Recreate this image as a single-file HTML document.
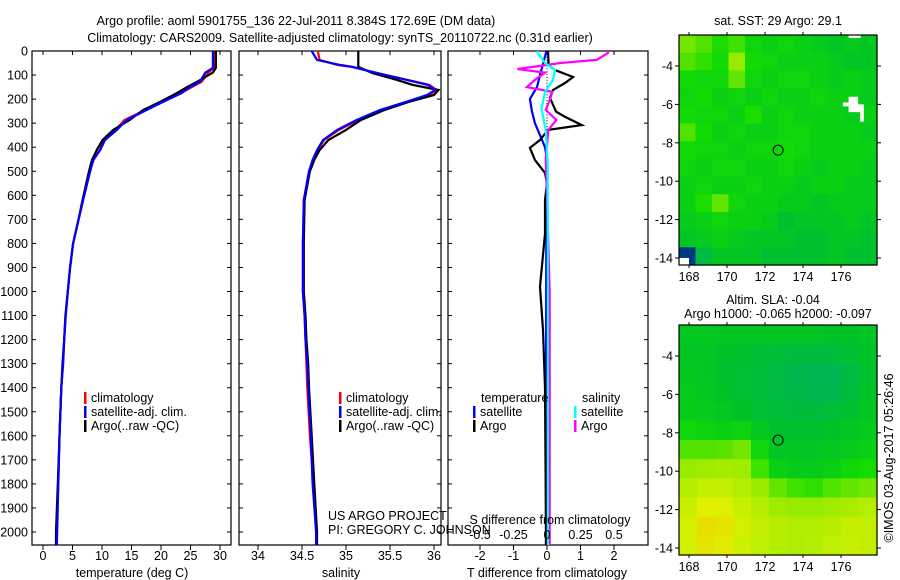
<!DOCTYPE html>
<html><head><meta charset="utf-8"><style>
html,body{margin:0;padding:0;background:#fff;}
svg{display:block;font-family:"Liberation Sans",sans-serif;}
text{font-size:12.5px;fill:#000;}
</style></head><body>
<svg id="chart" width="900" height="580" viewBox="0 0 900 580" xmlns="http://www.w3.org/2000/svg">
<text x="296" y="25" text-anchor="middle">Argo profile: aoml 5901755_136 22-Jul-2011 8.384S 172.69E (DM data)</text>
<text x="340" y="42" text-anchor="middle">Climatology: CARS2009. Satellite-adjusted climatology: synTS_20110722.nc (0.31d earlier)</text>
<g id="p1"></g>
<g id="p2"></g>
<g id="p3"></g>
<g id="m1"></g>
<g id="m2"></g>
<text x="328" y="520">US ARGO PROJECT</text>
<text x="328" y="534">PI: GREGORY C. JOHNSON</text>
<text x="778" y="25" text-anchor="middle">sat. SST: 29 Argo: 29.1</text>
<text x="773" y="304" text-anchor="middle">Altim. SLA: -0.04</text>
<text x="778" y="318" text-anchor="middle">Argo h1000: -0.065 h2000: -0.097</text>
<text transform="translate(893,458) rotate(-90)" text-anchor="middle">©IMOS 03-Aug-2017 05:26:46</text>
</svg>
<script>
// ---- data ----
const depthTicks=[0,100,200,300,400,500,600,700,800,900,1000,1100,1200,1300,1400,1500,1600,1700,1800,1900,2000];
const tempTicks=[0,5,10,15,20,25,30];
const salTicks=[34,34.5,35,35.5,36];
const salTickLabels=["34","34.5","35","35.5","36"];
const tdiffTicks=[-2,-1,0,1,2];
const sdiffTicks=[-0.5,-0.25,0,0.25,0.5];
const sdiffLabels=["-0.5","-0.25","0","0.25","0.5"];

const tDepth=[0,70,90,128,150,175,212,245,287,328,370,412,453,500,620,703,800,900,1000,1100,1200,1300,1400,1600,1800,2000,2054];
const tempSat=[28.8,28.8,27.5,26.6,24.9,23.5,20.3,17.6,14.2,12.5,10.5,9.7,8.5,8.0,6.8,6.0,5.1,4.6,4.2,3.85,3.6,3.4,3.1,2.8,2.6,2.4,2.35];
const tempClim=[29.0,29.0,28.0,26.9,25.2,23.3,20.0,17.4,13.8,12.3,10.4,9.6,8.6,7.9,6.8,6.0,5.1,4.6,4.2,3.85,3.6,3.4,3.1,2.8,2.6,2.3,2.3];
const tempArgo=[29.3,29.3,28.8,26.1,24.4,22.7,19.8,17.0,14.7,11.9,10.1,9.1,8.3,7.8,6.7,6.0,5.1,4.6,4.2,3.8,3.6,3.3,3.1,2.8,2.5,2.2,2.2];

const sDepth=[0,37,58,66,92,120,141,162,183,211,245,287,328,370,412,453,500,620,800,1000,1100,1200,1300,1400,1600,1800,2000,2054];
const salSat=[34.61,34.67,34.93,35.08,35.35,35.69,35.93,36.01,35.92,35.69,35.39,35.12,34.9,34.74,34.67,34.62,34.58,34.52,34.51,34.51,34.53,34.54,34.56,34.57,34.60,34.62,34.66,34.66];
const salClim=[34.68,34.70,34.90,35.06,35.36,35.70,35.95,36.03,35.95,35.71,35.41,35.14,34.92,34.75,34.68,34.63,34.58,34.52,34.51,34.51,34.53,34.54,34.55,34.56,34.59,34.63,34.66,34.66];
const salArgo=[35.14,35.14,35.14,35.14,35.3,35.58,35.76,36.05,36.0,35.72,35.44,35.17,35.0,34.8,34.7,34.64,34.59,34.53,34.52,34.52,34.54,34.55,34.57,34.58,34.61,34.64,34.67,34.67];

const dtSatDepth=[0,8,100,150,200,250,300,350,400,450,800,1400,2054];
const dtSat=[-0.03,-0.03,-0.21,-0.3,-0.51,-0.45,-0.36,-0.21,-0.06,0,-0.02,-0.03,-0.03];
const dtArgoDepth=[0,60,79,108,133,162,195,252,274,308,328,370,403,453,507,550,620,760,980,1160,1400,2000,2054];
const dtArgo=[0.03,0.05,0.24,0.78,0.54,0.18,0.09,0.27,0.54,1.04,0.03,-0.21,-0.51,-0.36,-0.06,0,-0.06,-0.06,-0.21,-0.12,-0.06,-0.03,-0.03];
const dsArgoDepth=[0,8,37,50,75,90,120,150,170,204,245,287,328,453,600,1000,2000,2054];
const dsArgo=[0.455,0.455,0.37,0.1,-0.22,-0.015,-0.09,-0.15,0.04,0.02,-0.01,0.07,0.01,-0.01,0,0.02,0.02,0.02];
const dsSatDepth=[0,8,50,79,120,170,240,328,470,1000,2054];
const dsSat=[-0.07,-0.07,-0.015,0.06,0.045,-0.015,-0.04,-0.01,0.005,0.007,0.007];

const lonTicks=[168,170,172,174,176];
const latTicks=[-4,-6,-8,-10,-12,-14];
const argoLon=172.69, argoLat=-8.384;
// gridded field values (0..1 colour index), rows north→south, cols west→east
const sstGrid=[
[0.66,0.62,0.56,0.6,0.52,0.5,0.52,0.5,0.48,0.46,0.48,0.46],
[0.62,0.58,0.54,0.7,0.54,0.52,0.5,0.5,0.5,0.48,0.46,0.46],
[0.54,0.52,0.52,0.64,0.52,0.5,0.52,0.52,0.5,0.48,0.5,0.48],
[0.52,0.54,0.5,0.52,0.5,0.52,0.5,0.5,0.52,0.5,0.5,0.48],
[0.54,0.52,0.52,0.5,0.56,0.5,0.52,0.5,0.5,0.5,0.48,0.5],
[0.62,0.54,0.5,0.52,0.5,0.5,0.52,0.52,0.5,0.5,0.5,0.48],
[0.54,0.52,0.52,0.5,0.52,0.52,0.54,0.52,0.5,0.5,0.5,0.5],
[0.52,0.5,0.52,0.52,0.5,0.5,0.52,0.5,0.48,0.5,0.5,0.48],
[0.5,0.52,0.5,0.5,0.52,0.5,0.5,0.48,0.5,0.5,0.48,0.48],
[0.5,0.56,0.64,0.52,0.5,0.5,0.48,0.48,0.46,0.48,0.48,0.48],
[0.48,0.5,0.52,0.5,0.5,0.48,0.44,0.46,0.46,0.46,0.48,0.46],
[0.46,0.48,0.5,0.48,0.46,0.46,0.46,0.44,0.44,0.46,0.46,0.44],
[0.1,0.4,0.46,0.46,0.46,0.44,0.44,0.44,0.44,0.46,0.44,0.44]];
const slaGrid=[
[0.47,0.47,0.46,0.46,0.46,0.46,0.46,0.46,0.45,0.45,0.46],
[0.46,0.46,0.45,0.44,0.43,0.42,0.41,0.41,0.41,0.43,0.45],
[0.47,0.46,0.44,0.43,0.42,0.40,0.38,0.37,0.37,0.40,0.44],
[0.48,0.47,0.45,0.43,0.42,0.40,0.39,0.38,0.38,0.41,0.45],
[0.49,0.48,0.47,0.45,0.43,0.42,0.41,0.41,0.42,0.44,0.46],
[0.52,0.51,0.50,0.51,0.47,0.44,0.44,0.44,0.45,0.46,0.48],
[0.62,0.62,0.63,0.66,0.52,0.46,0.46,0.46,0.47,0.48,0.50],
[0.70,0.72,0.73,0.72,0.60,0.50,0.48,0.48,0.50,0.53,0.55],
[0.76,0.79,0.79,0.76,0.71,0.64,0.60,0.58,0.62,0.64,0.66],
[0.80,0.85,0.84,0.80,0.76,0.72,0.70,0.70,0.72,0.74,0.76],
[0.82,0.90,0.88,0.82,0.79,0.77,0.75,0.75,0.77,0.79,0.79],
[0.82,0.88,0.86,0.81,0.78,0.76,0.75,0.76,0.78,0.80,0.79]];

// ---- helpers ----
const NS="http://www.w3.org/2000/svg";
function mk(parent,tag,attrs){const e=document.createElementNS(NS,tag);for(const k in attrs)e.setAttribute(k,attrs[k]);parent.appendChild(e);return e;}
const Y0=51, YS=0.2405;
const yD=d=>Y0+d*YS;
const xT=t=>43+t*5.9;
const xS=s=>258+(s-34)*88;
const xDT=v=>547+v*33.5;
const xDS=v=>547+v*134;

function frame(g,x0,x1){
  const r=mk(g,'rect',{x:x0,y:Y0,width:x1-x0,height:545-Y0,fill:'none',stroke:'#000','stroke-width':1.2});
  
  
  depthTicks.forEach(d=>{
    mk(g,'line',{x1:x0,x2:x0+4,y1:yD(d),y2:yD(d),stroke:'#000'});
    mk(g,'line',{x1:x1-4,x2:x1,y1:yD(d),y2:yD(d),stroke:'#000'});
  });
}
function xticks(g,vals,fx,labels,ly){
  vals.forEach((v,i)=>{
    const x=fx(v);
    mk(g,'line',{x1:x,x2:x,y1:Y0,y2:Y0+4,stroke:'#000'});
    mk(g,'line',{x1:x,x2:x,y1:545,y2:550,stroke:'#000'});
    const t=mk(g,'text',{x:x,y:ly,'text-anchor':'middle'});
    
    
    t.textContent=labels?labels[i]:String(v);
  });
}
function line(g,ds,vs,fx,color,w,name){
  const pts=ds.map((d,i)=>fx(vs[i]).toFixed(1)+','+yD(Math.min(d,2054)).toFixed(1)).join(' ');
  const p=mk(g,'polyline',{points:pts,fill:'none',stroke:color,'stroke-width':w,'stroke-linejoin':'miter'});
  
  
}
function legend(g,x,y,color,label){
  mk(g,'rect',{x:x,y:y-10,width:2.5,height:12,fill:color});
  const t=mk(g,'text',{x:x+7,y:y});
  
  
  t.textContent=label;
}
function txt(g,x,y,s,anchor,name){
  const t=mk(g,'text',{x:x,y:y,'text-anchor':anchor||'start'});
  
  
  t.textContent=s;
}

// ---- panel 1 ----
const p1=document.getElementById('p1');
frame(p1,32,231);
depthTicks.forEach(d=>txt(p1,28,yD(d)+4.5,String(d),'end','depth-tick-label'));
xticks(p1,tempTicks,xT,null,560);
line(p1,tDepth,tempClim,xT,'#f00',2.2,'temp-climatology-line');
line(p1,tDepth,tempArgo,xT,'#000',2.2,'temp-argo-line');
line(p1,tDepth,tempSat,xT,'#0000ff',2.2,'temp-satellite-line');
txt(p1,132,577,'temperature (deg C)','middle','x-axis-title');
legend(p1,84,402,'#f00','climatology');
legend(p1,84,416,'#0000ff','satellite-adj. clim.');
legend(p1,84,430,'#000','Argo(..raw -QC)');

// ---- panel 2 ----
const p2=document.getElementById('p2');
frame(p2,239,441);
xticks(p2,salTicks,xS,salTickLabels,560);
line(p2,sDepth,salClim,xS,'#f00',2.2,'sal-climatology-line');
line(p2,sDepth,salArgo,xS,'#000',2.2,'sal-argo-line');
line(p2,sDepth,salSat,xS,'#0000ff',2.2,'sal-satellite-line');
txt(p2,341,577,'salinity','middle','x-axis-title');
legend(p2,339,402,'#f00','climatology');
legend(p2,339,416,'#0000ff','satellite-adj. clim.');
legend(p2,339,430,'#000','Argo(..raw -QC)');

// ---- panel 3 ----
const p3=document.getElementById('p3');
frame(p3,448,648);
xticks(p3,tdiffTicks,xDT,null,560);
for(let d=0; d<2054; d+=12){mk(p3,'rect',{x:xDT(0)-0.5,y:yD(d),width:1,height:1,fill:'#000'});}
line(p3,dtSatDepth,dtSat,xDT,'#0000ff',2.2,'tdiff-satellite-line');
line(p3,dtArgoDepth,dtArgo,xDT,'#000',2.2,'tdiff-argo-line');
line(p3,dsArgoDepth,dsArgo,xDS,'#ff00ff',2.2,'sdiff-argo-line');
line(p3,dsSatDepth,dsSat,xDS,'#00ffff',2.2,'sdiff-satellite-line');
sdiffTicks.forEach((v,i)=>txt(p3,xDS(v),539,sdiffLabels[i],'middle','sdiff-tick-label'));
txt(p3,550,524,'S difference from climatology','middle','sdiff-axis-title');
txt(p3,547,577,'T difference from climatology','middle','x-axis-title');
txt(p3,481,402,'temperature','start','legend-header');
txt(p3,582,402,'salinity','start','legend-header');
legend(p3,473,416,'#0000ff','satellite');
legend(p3,473,430,'#000','Argo');
legend(p3,574,416,'#00ffff','satellite');
legend(p3,574,430,'#ff00ff','Argo');

// ---- maps ----
function color(v){
  const stops=[[0.0,[0,0,130]],[0.3,[0,170,120]],[0.45,[0,195,40]],[0.55,[20,220,0]],[0.7,[150,235,0]],[0.85,[225,240,0]],[1,[245,180,0]]];
  v=Math.max(0,Math.min(1,v));
  for(let i=1;i<stops.length;i++){if(v<=stops[i][0]){const a=stops[i-1],b=stops[i],f=(v-a[0])/(b[0]-a[0]);return 'rgb('+a[1].map((c,j)=>Math.round(c+(b[1][j]-c)*f)).join(',')+')';}}
}
function map(id,top,grid,extra){
  const g=document.getElementById(id);
  const X0=679,X1=877,Y1=top+230;
  const lx=l=>689+(l-168)*19;
  const ly=l=>top+31+(-4-l)*19.2;
  const rows=grid.length, cols=grid[0].length;
  const cw=(X1-X0)/cols, ch=(Y1-top)/rows;
  grid.forEach((row,r)=>row.forEach((v,c)=>{
    const cell=mk(g,'rect',{x:(X0+c*cw).toFixed(2),y:(top+r*ch).toFixed(2),width:(cw+0.6).toFixed(2),height:(ch+0.6).toFixed(2),fill:color(v)});
    
    
  }));
  if(extra) extra(g,lx,ly);
  const fr=mk(g,'rect',{x:X0,y:top,width:X1-X0,height:Y1-top,fill:'none',stroke:'#000','stroke-width':1.2});
  
  
  lonTicks.forEach(l=>{
    mk(g,'line',{x1:lx(l),x2:lx(l),y1:top-3,y2:top,stroke:'#000'});
    mk(g,'line',{x1:lx(l),x2:lx(l),y1:Y1,y2:Y1+3,stroke:'#000'});
    txt(g,lx(l),Y1+16,String(l),'middle','lon-tick-label');
  });
  latTicks.forEach(l=>{
    mk(g,'line',{x1:X0-4,x2:X0,y1:ly(l),y2:ly(l),stroke:'#000'});
    mk(g,'line',{x1:X1,x2:X1+4,y1:ly(l),y2:ly(l),stroke:'#000'});
    txt(g,X0-6,ly(l)+4.5,String(l),'end','lat-tick-label');
  });
  const c=mk(g,'circle',{cx:lx(argoLon),cy:ly(argoLat),r:5,fill:'none',stroke:'#000','stroke-width':1});
  
  
}
map('m1',35,sstGrid,(g,lx,ly)=>{
  const w=mk(g,'polygon',{points:[[lx(176.1),ly(-5.9)],[lx(176.4),ly(-5.9)],[lx(176.4),ly(-5.6)],[lx(176.9),ly(-5.6)],[lx(176.9),ly(-6.0)],[lx(177.2),ly(-6.0)],[lx(177.2),ly(-6.9)],[lx(177.0),ly(-6.9)],[lx(177.0),ly(-6.4)],[lx(176.4),ly(-6.4)],[lx(176.4),ly(-6.1)],[lx(176.1),ly(-6.1)]].map(p=>p.join(',')).join(' '),fill:'#fff'});
  
  
  mk(g,'rect',{x:lx(176.4),y:35,width:12,height:3,fill:'#fff'});
  mk(g,'rect',{x:679,y:ly(-14.0),width:10,height:8,fill:'#fff'});
});
map('m2',325,slaGrid,null);
</script>
</body></html>
